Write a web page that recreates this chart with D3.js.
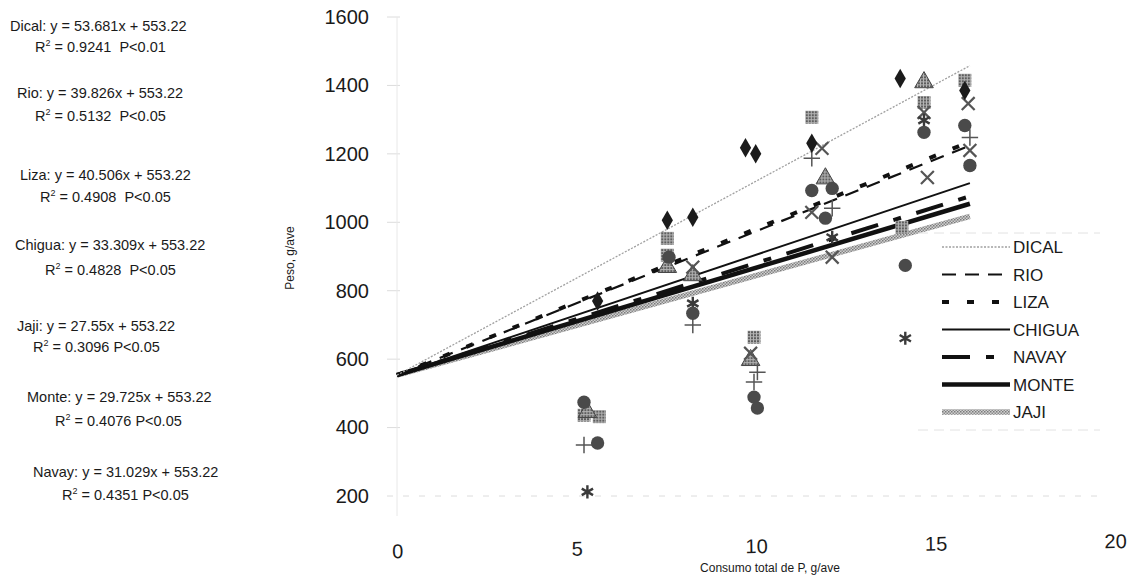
<!DOCTYPE html>
<html>
<head>
<meta charset="utf-8">
<script src="https://cdn.jsdelivr.net/npm/d3@7"></script>
<style>
  body { margin: 0; background: #fff; }
  text { font-family: "Liberation Sans", Arial, sans-serif; fill: #1a1a1a; }
</style>
</head>
<body>
<svg id="chart" width="1128" height="575"></svg>
<script>
// series, in legend order
const series = ['DICAL', 'RIO', 'LIZA', 'CHIGUA', 'NAVAY', 'MONTE', 'JAJI'];
const slopes = [53.681, 39.826, 40.506, 33.309, 31.029, 29.725, 27.55];
const intercept = 553.22;
const lineEnd = 16.85;

// equations box, in the order they are printed on the left
const eqNames = ['Dical', 'Rio', 'Liza', 'Chigua', 'Jaji', 'Monte', 'Navay'];
const eqSlopes = ['53.681', '39.826', '40.506', '33.309', '27.55', '29.725', '31.029'];
const eqR2 = ['0.9241', '0.5132', '0.4908', '0.4828', '0.3096', '0.4076', '0.4351'];
const eqP = ['P<0.01', 'P<0.05', 'P<0.05', 'P<0.05', 'P<0.05', 'P<0.05', 'P<0.05'];

// observed points (P intake g/bird, weight g/bird)
const dicalX = [5.9, 7.95, 8.7, 10.25, 10.55, 12.2, 14.8, 16.7];
const dicalY = [770, 1006, 1015, 1218, 1200, 1231, 1420, 1385];
const rioX = [5.5, 5.95, 7.95, 7.95, 10.5, 12.2, 15.5, 16.7, 14.85];
const rioY = [436, 432, 953, 904, 664, 1307, 1350, 1415, 985];
const lizaX = [5.6, 7.95, 8.7, 10.4, 12.6, 15.5];
const lizaY = [445, 869, 845, 597, 1128, 1409];
const chiguaX = [8.7, 10.4, 12.5, 12.2, 12.8, 15.5, 15.6, 16.8, 16.85];
const chiguaY = [869, 617, 1216, 1029, 898, 1321, 1131, 1347, 1210];
const navayX = [5.6, 8.7, 12.8, 14.95, 15.5, 16.85];
const navayY = [212, 763, 956, 661, 1298, 1166];
const monteX = [5.5, 5.9, 8.0, 8.7, 10.5, 10.6, 12.2, 12.8, 12.6, 14.95, 15.5, 16.7, 16.85];
const monteY = [474, 355, 898, 734, 489, 457, 1093, 1099, 1012, 874, 1263, 1283, 1166];
const jajiX = [5.5, 8.7, 10.6, 10.5, 12.2, 12.8, 16.85];
const jajiY = [349, 700, 562, 533, 1187, 1041, 1248];

const xTicks = [0, 5, 10, 15, 20];
const yTicks = [200, 400, 600, 800, 1000, 1200, 1400, 1600];

const pointsX = [dicalX, rioX, lizaX, chiguaX, navayX, monteX, jajiX];
const pointsY = [dicalY, rioY, lizaY, chiguaY, navayY, monteY, jajiY];

const svg = d3.select('#chart');

// halftone look of the scanned print
const defs = svg.append('defs');
const ht = defs.append('pattern').attr('id', 'ht')
  .attr('width', 3).attr('height', 3).attr('patternUnits', 'userSpaceOnUse');
ht.append('rect').attr('width', 3).attr('height', 3).attr('fill', '#b4b4b4');
ht.append('rect').attr('width', 2).attr('height', 2).attr('fill', '#5e5e5e');
const htl = defs.append('pattern').attr('id', 'htl')
  .attr('width', 3).attr('height', 3).attr('patternUnits', 'userSpaceOnUse');
htl.append('rect').attr('width', 3).attr('height', 3).attr('fill', '#d0d0d0');
htl.append('rect').attr('width', 1.5).attr('height', 1.5).attr('fill', '#7a7a7a');
htl.append('rect').attr('x', 1.5).attr('y', 1.5).attr('width', 1.5).attr('height', 1.5).attr('fill', '#8a8a8a');

const x = d3.scaleLinear().domain([0, 20]).range([397, 1077]);
const xLabel = d3.scaleLinear().domain([0, 20]).range([397, 1115]);
const y = d3.scaleLinear().domain([200, 1600]).range([496, 17]);

// faint grid + axis
svg.append('g').selectAll('line').data(yTicks).enter().append('line')
  .attr('x1', 387).attr('x2', d => d === 200 ? 1100 : 400)
  .attr('y1', d => y(d)).attr('y2', d => y(d))
  .attr('stroke', '#dcdcdc').attr('stroke-width', 1)
  .attr('stroke-dasharray', d => d === 200 ? '6,10' : null);
svg.append('line').attr('x1', x(0)).attr('x2', x(0))
  .attr('y1', y(1600)).attr('y2', y(200) + 20)
  .attr('stroke', '#e8e8e8');

const yAxis = svg.append('g').attr('transform', 'translate(371,0)')
  .call(d3.axisLeft(y).tickValues(yTicks).tickSize(0).tickPadding(2).tickFormat(d3.format('d')));
yAxis.select('.domain').remove();
yAxis.selectAll('text').style('font-size', '20px').attr('fill', '#1a1a1a');

const xAxis = svg.append('g').attr('transform', 'translate(0,540) rotate(-0.8,397,0)')
  .call(d3.axisBottom(xLabel).tickValues(xTicks).tickSize(0).tickPadding(4));
xAxis.select('.domain').remove();
xAxis.selectAll('text').style('font-size', '20px').attr('fill', '#1a1a1a');

svg.append('text').attr('x', 770).attr('y', 572).attr('text-anchor', 'middle')
  .style('font-size', '12px').text('Consumo total de P, g/ave');
svg.append('text').attr('transform', 'translate(294,258) rotate(-90)')
  .attr('text-anchor', 'middle').style('font-size', '12px').text('Peso, g/ave');

// trend line styles
const lineStyle = [
  { stroke: '#a0a0a0', width: 1.3, dash: '2,1.5' },
  { stroke: '#111', width: 2.2, dash: '14,9' },
  { stroke: '#111', width: 4, dash: '7,18' },
  { stroke: '#111', width: 2, dash: null },
  { stroke: '#111', width: 4, dash: '28,16,8,16' },
  { stroke: '#111', width: 4.5, dash: null },
  { stroke: 'url(#htl)', width: 5.5, dash: null }
];

const trend = svg.append('g');
const order = [6, 5, 4, 3, 1, 2, 0];
order.forEach(i => {
  const pts = [0, lineEnd].map(v => [x(v), y(intercept + slopes[i] * v)]);
  trend.append('path').attr('d', d3.line()(pts))
    .attr('fill', 'none').attr('stroke', lineStyle[i].stroke)
    .attr('stroke-width', lineStyle[i].width)
    .attr('stroke-dasharray', lineStyle[i].dash);
});

// markers
const markerStyle = [
  { type: d3.symbolDiamond, size: 110, fill: '#1b1b1b', stroke: 'none', sw: 0 },
  { type: d3.symbolSquare, size: 170, fill: 'url(#ht)', stroke: 'none', sw: 0 },
  { type: d3.symbolTriangle, size: 150, fill: 'url(#ht)', stroke: '#444', sw: 1 },
  { type: d3.symbolTimes, size: 110, fill: 'none', stroke: '#555', sw: 2.2 },
  { type: d3.symbolAsterisk, size: 120, fill: 'none', stroke: '#3a3a3a', sw: 2.4 },
  { type: d3.symbolCircle, size: 140, fill: '#4a4a4a', stroke: 'none', sw: 0 },
  { type: d3.symbolPlus, size: 90, fill: 'none', stroke: '#555', sw: 1.5 }
];

const marks = svg.append('g');
[1, 2, 6, 3, 4, 5, 0].forEach(i => {
  const data = pointsX[i].map((v, k) => [v, pointsY[i][k]]);
  marks.selectAll('.m' + i).data(data).enter().append('path')
    .attr('class', 'm' + i)
    .attr('transform', d => `translate(${x(d[0])},${y(d[1])})`)
    .attr('d', d3.symbol().type(markerStyle[i].type).size(markerStyle[i].size))
    .attr('fill', markerStyle[i].fill)
    .attr('stroke', markerStyle[i].stroke)
    .attr('stroke-width', markerStyle[i].sw);
});

// legend
const legend = svg.append('g');
legend.append('rect').attr('x', 925).attr('y', 233).attr('width', 175).attr('height', 197)
  .attr('fill', '#fff').attr('fill-opacity', 0.85);
[233, 430].forEach(v => legend.append('line')
  .attr('x1', 918).attr('x2', 1100).attr('y1', v).attr('y2', v)
  .attr('stroke', '#e2e2e2').attr('stroke-dasharray', '10,6'));
const ly = d3.scalePoint().domain(series).range([247, 412]);
series.forEach((s, i) => {
  legend.append('line').attr('x1', 942).attr('x2', 1010)
    .attr('y1', ly(s)).attr('y2', ly(s))
    .attr('stroke', lineStyle[i].stroke).attr('stroke-width', lineStyle[i].width)
    .attr('stroke-dasharray', lineStyle[i].dash);
  legend.append('text').attr('x', 1013).attr('y', ly(s)).attr('dy', '0.36em')
    .style('font-size', '17px').text(s);
});

// equations on the left
const eqX1 = [10, 17, 20, 15, 17, 27, 33];
const eqX2 = [35, 35, 40, 45, 33, 55, 62];
const eqY1 = [31, 98, 180, 250, 331, 402, 477];
const eqY2 = [52, 121, 202, 275, 352, 426, 500];
const eq = svg.append('g').style('font-size', '14.5px');
eqNames.forEach((n, i) => {
  eq.append('text').attr('x', eqX1[i]).attr('y', eqY1[i])
    .text(`${n}: y = ${eqSlopes[i]}x + ${intercept}`);
  const t = eq.append('text').attr('x', eqX2[i]).attr('y', eqY2[i]);
  t.append('tspan').text('R');
  t.append('tspan').attr('dy', -6).style('font-size', '9px').text('2');
  t.append('tspan').attr('dy', 6).text(` = ${eqR2[i]}` + (i < 4 ? '\u00a0 ' : ' ') + eqP[i]);
});
</script>
</body>
</html>
